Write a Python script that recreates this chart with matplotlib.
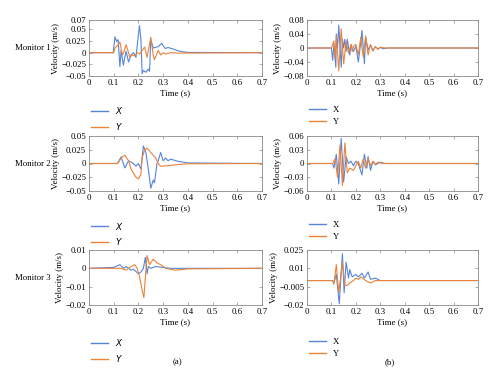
import numpy as np
import matplotlib
matplotlib.use("Agg")
import matplotlib.pyplot as plt

plt.rcParams['font.family'] = ['Liberation Serif', 'DejaVu Serif']
plt.rcParams['font.size'] = 6

# (a) Monitor 1
t_a1x = [0, 0.098, 0.105, 0.112, 0.118, 0.125, 0.13, 0.139, 0.145, 0.15, 0.16, 0.17, 0.18, 0.19, 0.204,
         0.21, 0.215, 0.22, 0.23, 0.24, 0.245, 0.25, 0.26, 0.28, 0.294, 0.308, 0.32, 0.34, 0.36, 0.38, 0.4, 0.7]
v_a1x = [0, 0, 0.034, 0.024, 0.028, -0.03, 0.005, -0.027, -0.01, 0.003, -0.02, -0.005, 0.0, -0.01, 0.058,
         0.03, -0.045, -0.038, -0.042, -0.035, -0.04, 0.028, 0.01, 0.013, 0.02, 0.009, 0.011, 0.008, 0.004, 0.002, 0.0005, 0]
t_a1y = [0, 0.1, 0.105, 0.115, 0.125, 0.135, 0.14, 0.15, 0.16, 0.165, 0.175, 0.185, 0.195, 0.205, 0.225,
         0.235, 0.25, 0.26, 0.265, 0.28, 0.29, 0.3, 0.31, 0.33, 0.36, 0.7]
v_a1y = [0, 0, 0.01, 0.015, 0.023, -0.005, 0.0, 0.017, 0.0, -0.01, -0.005, -0.007, 0.0, -0.003, 0.012,
         -0.01, 0.033, -0.005, -0.015, 0.005, -0.005, 0.0, -0.003, 0.0, -0.001, 0]

# (b) Monitor 1
t_b1x = [0, 0.1, 0.105, 0.11, 0.118, 0.12, 0.125, 0.13, 0.14, 0.145, 0.15, 0.155, 0.16, 0.165, 0.175, 0.18,
         0.19, 0.2, 0.21, 0.22, 0.225, 0.235, 0.24, 0.25, 0.26, 0.27, 0.28, 0.29, 0.3, 0.31, 0.33, 0.7]
v_b1x = [0, 0, -0.035, 0.01, -0.055, 0.04, 0.0, 0.065, -0.055, 0.025, 0.0, 0.025, -0.01, 0.025, -0.02, 0.01,
         -0.01, 0.005, -0.04, 0.015, 0.05, -0.045, 0.03, -0.005, 0.007, -0.008, 0.004, -0.003, 0.002, -0.002, 0.0, 0]
t_b1y = [0, 0.1, 0.11, 0.115, 0.12, 0.13, 0.14, 0.15, 0.16, 0.17, 0.18, 0.185, 0.19, 0.2, 0.21, 0.22,
         0.23, 0.24, 0.25, 0.26, 0.27, 0.28, 0.29, 0.3, 0.32, 0.7]
v_b1y = [0, 0, 0.02, -0.03, 0.035, -0.065, 0.055, -0.045, 0.02, -0.015, 0.01, -0.01, 0.005, 0.01, -0.02, 0.03,
         -0.025, 0.035, -0.02, 0.01, -0.008, 0.004, -0.003, 0.002, 0.0, 0]

# (a) Monitor 2
t_a2x = [0, 0.115, 0.13, 0.145, 0.16, 0.18, 0.19, 0.2, 0.21, 0.22, 0.23, 0.24, 0.25, 0.26, 0.265, 0.275,
         0.28, 0.29, 0.3, 0.31, 0.32, 0.33, 0.36, 0.4, 0.7]
v_a2x = [0, 0, 0.012, -0.008, 0.005, 0.0, -0.005, 0.0, -0.01, 0.032, 0.02, -0.01, -0.045, -0.03, -0.035, 0.0,
         0.005, 0.02, 0.005, 0.01, 0.005, 0.008, 0.004, 0.001, 0]
t_a2y = [0, 0.115, 0.135, 0.145, 0.16, 0.17, 0.19, 0.2, 0.21, 0.215, 0.225, 0.235, 0.25, 0.26, 0.27, 0.28,
         0.29, 0.32, 0.36, 0.4, 0.7]
v_a2y = [0, 0, 0.012, 0.015, 0.005, -0.01, -0.025, -0.028, -0.02, 0.01, 0.025, 0.028, 0.02, 0.015, 0.01, 0.0,
         -0.005, -0.004, -0.002, -0.0005, 0]

# (b) Monitor 2
t_b2x = [0, 0.105, 0.11, 0.12, 0.13, 0.14, 0.15, 0.16, 0.17, 0.18, 0.19, 0.2, 0.21, 0.225, 0.235, 0.245,
         0.25, 0.26, 0.27, 0.28, 0.3, 0.32, 0.7]
v_b2x = [0, 0, -0.01, 0.02, -0.045, 0.055, -0.04, 0.015, 0.0, 0.005, -0.005, 0.005, 0.0, -0.025, 0.02, -0.01,
         0.015, -0.015, 0.005, -0.003, 0.003, 0.0, 0]
t_b2y = [0, 0.105, 0.115, 0.125, 0.135, 0.145, 0.155, 0.165, 0.175, 0.19, 0.2, 0.21, 0.22, 0.23, 0.24, 0.25,
         0.26, 0.27, 0.28, 0.29, 0.31, 0.7]
v_b2y = [0, 0, 0.01, -0.03, 0.04, -0.048, 0.045, -0.02, -0.01, -0.015, -0.005, 0.005, -0.01, 0.01, -0.01, 0.012,
         -0.005, 0.004, -0.002, 0.003, 0.0, 0]

# (a) Monitor 3
t_a3x = [0, 0.1, 0.125, 0.14, 0.15, 0.17, 0.18, 0.2, 0.21, 0.22, 0.228, 0.235, 0.24, 0.25, 0.27, 0.3, 0.33, 0.7]
v_a3x = [0, 0.0005, 0.002, 0.0, 0.001, -0.001, -0.0005, -0.003, -0.002, 0.0, 0.006, -0.003, 0.001, 0.0,
         0.001, 0.0005, 0.0, 0]
t_a3y = [0, 0.13, 0.15, 0.17, 0.185, 0.195, 0.205, 0.215, 0.222, 0.228, 0.235, 0.245, 0.26, 0.275, 0.29,
         0.31, 0.33, 0.35, 0.4, 0.7]
v_a3y = [0, 0, -0.001, 0.001, 0.002, 0.0, -0.005, -0.012, -0.016, -0.005, 0.007, 0.002, 0.005, 0.003, 0.002,
         0.0, -0.0005, -0.001, -0.0003, 0]

# (b) Monitor 3
t_b3x = [0, 0.105, 0.11, 0.12, 0.132, 0.145, 0.152, 0.16, 0.17, 0.175, 0.185, 0.2, 0.21, 0.225, 0.235,
         0.25, 0.26, 0.28, 0.3, 0.7]
v_b3x = [0, 0, -0.002, 0.005, -0.019, 0.022, -0.01, 0.015, 0.002, 0.009, 0.003, 0.005, 0.003, 0.006, 0.002,
         0.007, 0.001, 0.002, 0.0, 0]
t_b3y = [0, 0.105, 0.11, 0.12, 0.13, 0.145, 0.155, 0.165, 0.175, 0.19, 0.2, 0.21, 0.22, 0.24, 0.26, 0.28, 0.7]
v_b3y = [0, 0, -0.003, 0.013, -0.01, 0.015, -0.004, -0.004, -0.002, 0.0, 0.002, 0.001, 0.003, 0.0, -0.002, 0.0, 0]

ylims = [(-0.05, 0.07), (-0.08, 0.08), (-0.05, 0.05), (-0.06, 0.06), (-0.02, 0.01), (-0.02, 0.025)]
yticks = [[-0.05, -0.025, 0, 0.025, 0.05, 0.07],
          [-0.08, -0.04, 0, 0.04, 0.08],
          [-0.05, -0.025, 0, 0.025, 0.05],
          [-0.06, -0.03, 0, 0.03, 0.06],
          [-0.02, -0.01, 0, 0.01],
          [-0.02, -0.005, 0.01, 0.025]]
series = [(t_a1x, v_a1x, t_a1y, v_a1y), (t_b1x, v_b1x, t_b1y, v_b1y),
          (t_a2x, v_a2x, t_a2y, v_a2y), (t_b2x, v_b2x, t_b2y, v_b2y),
          (t_a3x, v_a3x, t_a3y, v_a3y), (t_b3x, v_b3x, t_b3y, v_b3y)]

blue = '#5585dc'
orange = '#ec8236'
grey = '#8a8a8a'

fig = plt.figure(figsize=(5, 3.83), dpi=100)
W, H = 500, 383
col_x = [(89, 173), (307, 171)]
row_y = [(20, 56), (136, 55), (250, 55)]
leg_y = [109, 224, 341]

def fmt(v):
    if v == 0:
        return '0'
    return ('%g' % v).replace('-', '\u2212')

for i in range(6):
    r, c = divmod(i, 2)
    x0, w = col_x[c]
    y0, h = row_y[r]
    ax = fig.add_axes([x0 / W, 1 - (y0 + h) / H, w / W, h / H])
    tx, vx, ty, vy = series[i]
    ax.plot(tx, vx, color=blue, lw=0.8)
    ax.plot(ty, vy, color=orange, lw=0.8)
    ax.set_xlim(0, 0.7)
    ax.set_ylim(*ylims[i])
    ax.set_xticks(np.arange(0, 0.71, 0.1))
    ax.set_xticklabels(['0'] + ['%.1f' % v for v in np.arange(0.1, 0.71, 0.1)])
    ax.set_yticks(yticks[i])
    ax.set_yticklabels([fmt(v) for v in yticks[i]])
    ax.tick_params(direction='in', top=True, right=True, length=2, width=0.5,
                   color=grey, labelsize=6.3, pad=2)
    for s in ax.spines.values():
        s.set_color(grey)
        s.set_linewidth(0.6)
    ax.set_xlabel('Time (s)', fontsize=6.5, labelpad=2)
    ax.set_ylabel('Velocity (m/s)', fontsize=6.5, labelpad=1)
    if c == 0:
        labs = ['$X$', '$Y$']
        fig.text(33 / W, 1 - (y0 + h / 2) / H, 'Monitor %d' % (r + 1), ha='center', va='center', fontsize=6.3)
    else:
        labs = ['X', 'Y']
    hx = plt.Line2D([], [], color=blue, lw=1.0)
    hy = plt.Line2D([], [], color=orange, lw=1.0)
    ax.legend([hx, hy], labs, loc='upper left', frameon=False, fontsize=6.3,
              bbox_to_anchor=((x0 - 2) / W, 1 - (leg_y[r] - 7) / H), bbox_transform=fig.transFigure,
              handlelength=2.0, handletextpad=0.8, labelspacing=0.5, borderaxespad=0)

fig.text(177 / W, 1 - 362 / H, '(a)', ha='center', va='center', fontsize=6.3)
fig.text(390 / W, 1 - 362 / H, '(b)', ha='center', va='center', fontsize=6.3)

fig.savefig('out.png', dpi=100)
